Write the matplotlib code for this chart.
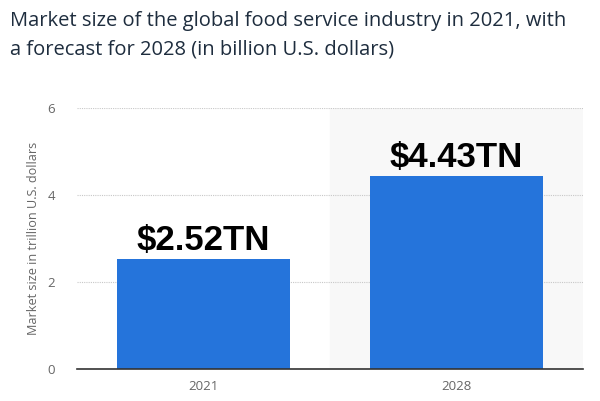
import matplotlib
matplotlib.use("Agg")
import matplotlib.pyplot as plt

# data
years = ["2021", "2028"]
market_size = [2.52, 4.43]
value_labels = ["$2.52TN", "$4.43TN"]
y_ticks = [0, 2, 4, 6]

BAR_COLOR = "#2574db"
TITLE = "Market size of the global food service industry in 2021, with\na forecast for 2028 (in billion U.S. dollars)"

fig = plt.figure(figsize=(6.0, 4.01), dpi=100)
ax = fig.add_axes([77 / 600, 1 - 369 / 401, 506 / 600, 261 / 401])

x = list(range(len(years)))

# forecast shading behind 2028
ax.axvspan(0.5, 1.5, color="#f8f8f8", zorder=0)

ax.bar(x, market_size, width=0.685, color=BAR_COLOR, zorder=3)

for xi, v, lab in zip(x, market_size, value_labels):
    ax.text(xi, v + 0.05, lab, ha="center", va="bottom", fontsize=25,
            fontweight="bold", family="Liberation Sans", color="#000000", zorder=4)

ax.set_xlim(-0.5, 1.5)
ax.set_ylim(0, 6)
ax.set_yticks(y_ticks)
ax.set_xticks(x)
ax.set_xticklabels(years)

ax.grid(axis="y", linestyle=(0, (1, 1)), color="#c8c8c8", linewidth=0.8, zorder=1)
ax.set_axisbelow(True)

for side in ["top", "right", "left"]:
    ax.spines[side].set_visible(False)
ax.spines["bottom"].set_color("#333333")
ax.spines["bottom"].set_linewidth(1.2)
ax.spines["bottom"].set_zorder(5)

ax.tick_params(axis="both", length=0, labelsize=9.5, labelcolor="#666666")
ax.tick_params(axis="y", pad=16)
ax.tick_params(axis="x", pad=8)
for t in ax.get_xticklabels() + ax.get_yticklabels():
    t.set_family("Open Sans")

ax.set_ylabel("Market size in trillion U.S. dollars", fontsize=9.1, color="#666666",
              family="Open Sans", labelpad=5)

fig.text(10 / 600, 1 - 11 / 401, TITLE, ha="left", va="top", fontsize=14.5,
         family="Open Sans", color="#1e2d3e", linespacing=1.57)

fig.savefig("out.png", dpi=100)
